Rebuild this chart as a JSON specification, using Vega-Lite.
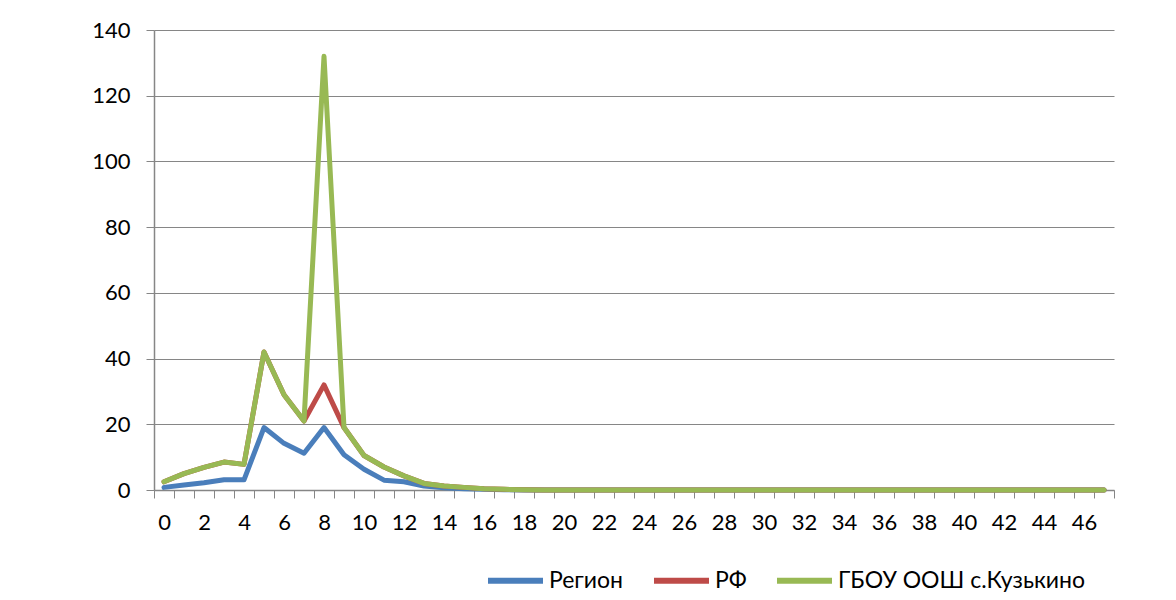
{
  "$schema": "https://vega.github.io/schema/vega-lite/v6.json",
  "width": 960,
  "height": 460,
  "autosize": {"type": "none"},
  "padding": {"left": 154, "top": 30, "right": 62, "bottom": 110},
  "background": "white",
  "config": {
    "view": {"stroke": null},
    "font": "Lato"
  },
  "data": {
    "values": [
      {"x": 0, "Регион": 0.8, "РФ": 2.5, "ГБОУ": 2.5},
      {"x": 1, "Регион": 1.5, "РФ": 5, "ГБОУ": 5},
      {"x": 2, "Регион": 2.2, "РФ": 6.9, "ГБОУ": 6.9},
      {"x": 3, "Регион": 3.1, "РФ": 8.5, "ГБОУ": 8.5},
      {"x": 4, "Регион": 3.1, "РФ": 7.8, "ГБОУ": 7.8},
      {"x": 5, "Регион": 19, "РФ": 42, "ГБОУ": 42},
      {"x": 6, "Регион": 14.2, "РФ": 29, "ГБОУ": 29},
      {"x": 7, "Регион": 11.2, "РФ": 21, "ГБОУ": 21},
      {"x": 8, "Регион": 19, "РФ": 32, "ГБОУ": 132},
      {"x": 9, "Регион": 10.7, "РФ": 19, "ГБОУ": 19},
      {"x": 10, "Регион": 6.3, "РФ": 10.5, "ГБОУ": 10.5},
      {"x": 11, "Регион": 3, "РФ": 7, "ГБОУ": 7},
      {"x": 12, "Регион": 2.5, "РФ": 4.3, "ГБОУ": 4.3},
      {"x": 13, "Регион": 1.2, "РФ": 2, "ГБОУ": 2},
      {"x": 14, "Регион": 0.7, "РФ": 1.2, "ГБОУ": 1.2},
      {"x": 15, "Регион": 0.4, "РФ": 0.8, "ГБОУ": 0.8},
      {"x": 16, "Регион": 0.2, "РФ": 0.4, "ГБОУ": 0.4},
      {"x": 17, "Регион": 0.1, "РФ": 0.2, "ГБОУ": 0.2},
      {"x": 18, "Регион": 0, "РФ": 0.1, "ГБОУ": 0.1},
      {"x": 19, "Регион": 0, "РФ": 0, "ГБОУ": 0},
      {"x": 20, "Регион": 0, "РФ": 0, "ГБОУ": 0},
      {"x": 21, "Регион": 0, "РФ": 0, "ГБОУ": 0},
      {"x": 22, "Регион": 0, "РФ": 0, "ГБОУ": 0},
      {"x": 23, "Регион": 0, "РФ": 0, "ГБОУ": 0},
      {"x": 24, "Регион": 0, "РФ": 0, "ГБОУ": 0},
      {"x": 25, "Регион": 0, "РФ": 0, "ГБОУ": 0},
      {"x": 26, "Регион": 0, "РФ": 0, "ГБОУ": 0},
      {"x": 27, "Регион": 0, "РФ": 0, "ГБОУ": 0},
      {"x": 28, "Регион": 0, "РФ": 0, "ГБОУ": 0},
      {"x": 29, "Регион": 0, "РФ": 0, "ГБОУ": 0},
      {"x": 30, "Регион": 0, "РФ": 0, "ГБОУ": 0},
      {"x": 31, "Регион": 0, "РФ": 0, "ГБОУ": 0},
      {"x": 32, "Регион": 0, "РФ": 0, "ГБОУ": 0},
      {"x": 33, "Регион": 0, "РФ": 0, "ГБОУ": 0},
      {"x": 34, "Регион": 0, "РФ": 0, "ГБОУ": 0},
      {"x": 35, "Регион": 0, "РФ": 0, "ГБОУ": 0},
      {"x": 36, "Регион": 0, "РФ": 0, "ГБОУ": 0},
      {"x": 37, "Регион": 0, "РФ": 0, "ГБОУ": 0},
      {"x": 38, "Регион": 0, "РФ": 0, "ГБОУ": 0},
      {"x": 39, "Регион": 0, "РФ": 0, "ГБОУ": 0},
      {"x": 40, "Регион": 0, "РФ": 0, "ГБОУ": 0},
      {"x": 41, "Регион": 0, "РФ": 0, "ГБОУ": 0},
      {"x": 42, "Регион": 0, "РФ": 0, "ГБОУ": 0},
      {"x": 43, "Регион": 0, "РФ": 0, "ГБОУ": 0},
      {"x": 44, "Регион": 0, "РФ": 0, "ГБОУ": 0},
      {"x": 45, "Регион": 0, "РФ": 0, "ГБОУ": 0},
      {"x": 46, "Регион": 0, "РФ": 0, "ГБОУ": 0},
      {"x": 47, "Регион": 0, "РФ": 0, "ГБОУ": 0}
    ]
  },
  "transform": [
    {"fold": ["Регион", "РФ", "ГБОУ"], "as": ["series", "value"]}
  ],
  "mark": {"type": "line", "strokeWidth": 5, "strokeJoin": "round", "strokeCap": "round"},
  "encoding": {
    "x": {
      "field": "x",
      "type": "ordinal",
      "sort": "ascending",
      "scale": {"paddingInner": 0, "paddingOuter": 0},
      "axis": {
        "title": null,
        "labelAngle": 0,
        "labelExpr": "datum.value % 2 == 0 ? datum.label : ''",
        "tickBand": "extent",
        "tickSize": 8,
        "tickColor": "#868686",
        "domainColor": "#868686",
        "domainWidth": 1.5,
        "labelFontSize": 22,
        "labelColor": "#000000",
        "labelPadding": 14,
        "grid": false
      }
    },
    "y": {
      "field": "value",
      "type": "quantitative",
      "scale": {"domain": [0, 140], "nice": false},
      "axis": {
        "title": null,
        "values": [0, 20, 40, 60, 80, 100, 120, 140],
        "tickSize": 8,
        "tickColor": "#868686",
        "domainColor": "#868686",
        "domainWidth": 1.5,
        "gridColor": "#868686",
        "gridWidth": 1.2,
        "labelFontSize": 22,
        "labelColor": "#000000",
        "labelPadding": 16
      }
    },
    "color": {
      "field": "series",
      "type": "nominal",
      "sort": null,
      "scale": {"domain": ["Регион", "РФ", "ГБОУ"], "range": ["#4a7ebb", "#be4b48", "#98b954"]},
      "legend": {
        "title": null,
        "orient": "none",
        "legendX": 331,
        "legendY": 520,
        "direction": "horizontal",
        "symbolType": "stroke",
        "symbolSize": 3025,
        "symbolStrokeWidth": 6,
        "labelFontSize": 23,
        "labelColor": "#000000",
        "labelOffset": 3,
        "labelLimit": 400,
        "columnPadding": 18,
        "labelExpr": "datum.label == 'ГБОУ' ? 'ГБОУ ООШ с.Кузькино' : datum.label"
      }
    }
  }
}
